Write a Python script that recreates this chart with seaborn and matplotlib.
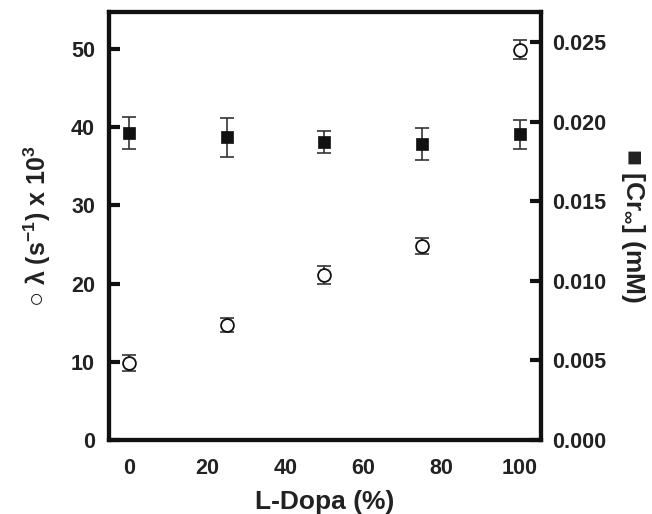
import matplotlib
matplotlib.use("Agg")
import matplotlib.pyplot as plt
import seaborn as sns
import pandas as pd

ldopa = [0, 25, 50, 75, 100]
lam = [9.8, 14.7, 21.1, 24.8, 49.9]
lam_err = [1.0, 0.9, 1.15, 1.0, 1.2]
cr = [0.0193, 0.0190, 0.0187, 0.0186, 0.0192]
cr_err = [0.0010, 0.0012, 0.0007, 0.0010, 0.0009]
xticks = [0, 20, 40, 60, 80, 100]
yticks_left = [0, 10, 20, 30, 40, 50]
yticks_right = [0.000, 0.005, 0.010, 0.015, 0.020, 0.025]

sns.set_style("white")
plt.rcParams['font.family'] = ['Liberation Sans', 'DejaVu Sans']
plt.rcParams['mathtext.fontset'] = 'custom'
plt.rcParams['mathtext.rm'] = 'Liberation Sans:bold'
plt.rcParams['mathtext.it'] = 'Liberation Sans:bold'
plt.rcParams['mathtext.bf'] = 'Liberation Sans:bold'

df = pd.DataFrame({"ldopa": ldopa, "lam": lam, "lam_err": lam_err, "cr": cr, "cr_err": cr_err})

fig = plt.figure(figsize=(6.52, 5.14), dpi=100)
ax = fig.add_axes([109/652, 74/514, 432/652, 428/514])
ax2 = ax.twinx()

ax.errorbar(df.ldopa, df.lam, yerr=df.lam_err, fmt='none', ecolor='#333333', elinewidth=1.2, capsize=4.7, capthick=1.2, zorder=2)
sns.scatterplot(data=df, x="ldopa", y="lam", ax=ax, marker='o', s=85, facecolor='white', edgecolor='#111111', linewidth=1.3, zorder=3)

ax2.errorbar(df.ldopa, df.cr, yerr=df.cr_err, fmt='none', ecolor='#333333', elinewidth=1.2, capsize=4.7, capthick=1.2, zorder=2)
sns.scatterplot(data=df, x="ldopa", y="cr", ax=ax2, marker='s', s=80, color='#111111', edgecolor='#111111', linewidth=0.5, zorder=3)

ax.set_xlim(-5.1, 105.4)
ax.set_ylim(0, 54.7)
ax2.set_ylim(0, 0.02688)
ax.set_xticks(xticks)
ax.set_yticks(yticks_left)
ax2.set_yticks(yticks_right)
tfs = 15.5
ax.set_xticklabels([str(v) for v in xticks], fontsize=tfs, fontweight='bold', color='#222222')
ax.set_yticklabels([str(v) for v in yticks_left], fontsize=tfs, fontweight='bold', color='#222222')
ax2.set_yticklabels([f"{v:.3f}" for v in yticks_right], fontsize=tfs, fontweight='bold', color='#222222')

for a in (ax, ax2):
    for sp in a.spines.values():
        sp.set_linewidth(3)
        sp.set_color('#111111')
        sp.set_visible(True)
ax.tick_params(axis='x', direction='in', length=8, width=3, color='#111111', pad=13)
ax.tick_params(axis='y', direction='in', length=8, width=3, color='#111111', pad=10)
ax2.tick_params(axis='y', direction='in', length=8, width=3, color='#111111', pad=8)

ax.set_xlabel("L-Dopa (%)", fontsize=19, fontweight='bold', color='#222222', labelpad=8)
ax.set_ylabel(r"$\bigcirc$ $\lambda$ (s$^{-1}$) x 10$^{3}$", fontsize=18, fontweight='bold', color='#222222', labelpad=13)
ax2.set_ylabel("\u25A0 [Cr$_{\\infty}$] (mM)", fontsize=19, fontweight='bold', color='#222222', rotation=270, labelpad=29)

fig.savefig("out.png", dpi=100)
